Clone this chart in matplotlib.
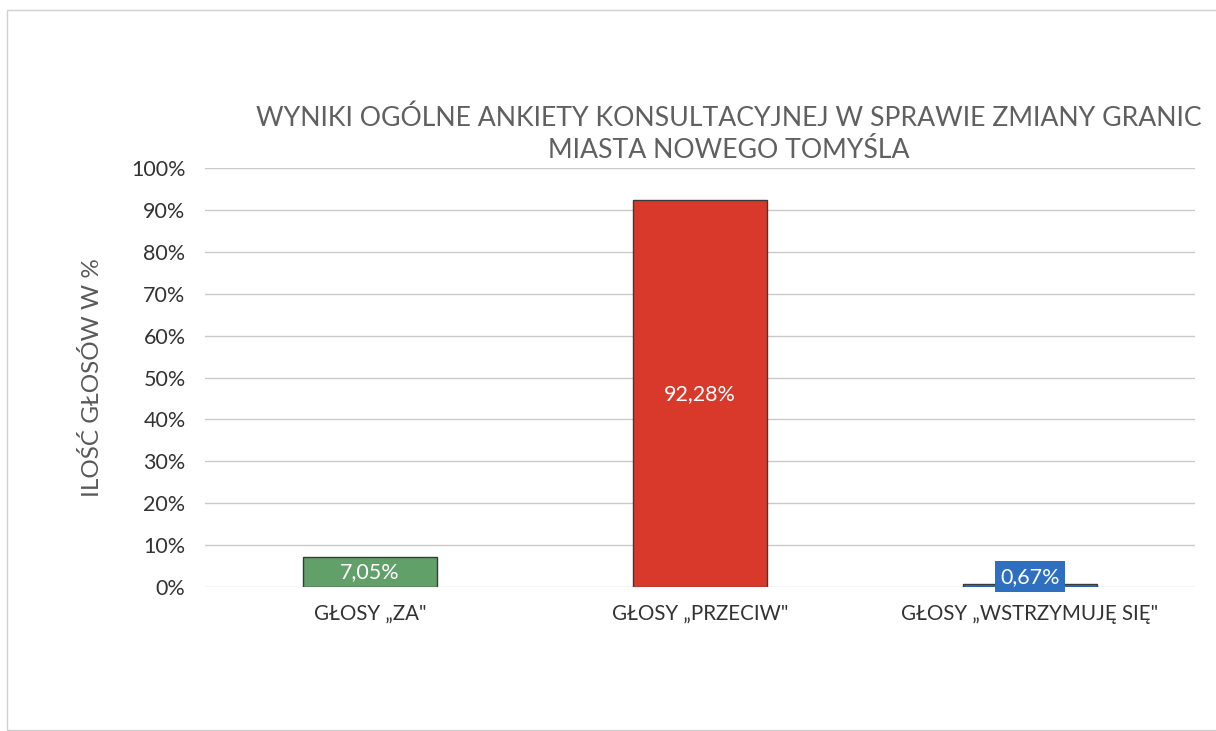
import matplotlib
matplotlib.use("Agg")
import matplotlib.pyplot as plt
from matplotlib.patches import Rectangle
from matplotlib.ticker import FuncFormatter

plt.rcParams["font.family"] = ["Lato", "DejaVu Sans"]

categories = ["GŁOSY „ZA\"", "GŁOSY „PRZECIW\"", "GŁOSY „WSTRZYMUJĘ SIĘ\""]
values = [7.05, 92.28, 0.67]
labels = ["7,05%", "92,28%", "0,67%"]
colors = ["#62a06a", "#d8392b", "#2f6fc0"]
yticks = list(range(0, 101, 10))

TEXT = "#333333"
MUTED = "#595959"
GRID = "#c9c9c9"

fig = plt.figure(figsize=(12.16, 7.31), dpi=100, facecolor="white")
ax = fig.add_axes([0.1686, 0.197, 0.814, 0.573])

x = range(len(categories))
bars = ax.bar(x, values, width=0.405, color=colors, edgecolor="#3a3a3a",
              linewidth=1.0, zorder=3)

ax.set_ylim(0, 100)
ax.set_xlim(-0.5, 2.5)
ax.set_yticks(yticks)
ax.yaxis.set_major_formatter(FuncFormatter(lambda v, p: f"{int(v)}%"))
ax.grid(axis="y", color=GRID, linewidth=1.0, zorder=0)
ax.set_axisbelow(True)
for s in ax.spines.values():
    s.set_visible(False)
ax.tick_params(axis="y", length=0, labelsize=15.5, colors=TEXT, pad=14)
ax.tick_params(axis="x", length=0, labelsize=14.8, colors=TEXT, pad=12)
ax.set_xticks(list(x))
ax.set_xticklabels(categories)

ax.set_ylabel("ILOŚĆ GŁOSÓW W %", fontsize=17.5, color=MUTED, labelpad=20)

# data labels
ax.text(0, values[0] / 2, labels[0], ha="center", va="center", color="white",
        fontsize=15.5, zorder=4)
ax.text(1, values[1] / 2, labels[1], ha="center", va="center", color="white",
        fontsize=15.5, zorder=4)
ax.text(2, values[2] + 1.8, labels[2], ha="center", va="center", color="white",
        fontsize=15.5, zorder=4,
        bbox=dict(facecolor=colors[2], edgecolor="none", boxstyle="square,pad=0.25"))

fig.text(0.599, 0.816, "WYNIKI OGÓLNE ANKIETY KONSULTACYJNEJ W SPRAWIE ZMIANY GRANIC\nMIASTA NOWEGO TOMYŚLA",
         ha="center", va="center", fontsize=19.2, color="#606060", linespacing=1.35)

# outer chart border
fig.patches.append(Rectangle((7 / 1216, 1 / 731), 1.2, 720 / 731, transform=fig.transFigure,
                             fill=False, edgecolor="#d0d0d0", linewidth=1.0))

fig.savefig("out.png", dpi=100, facecolor="white")
